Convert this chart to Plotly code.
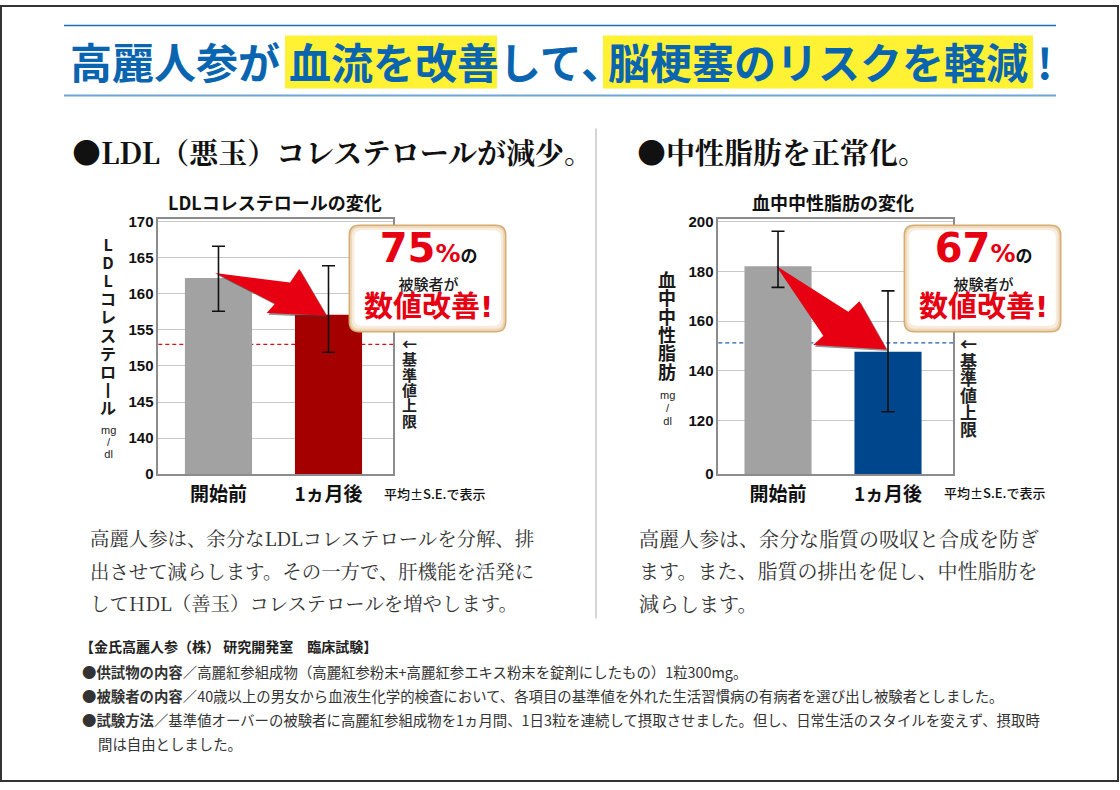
import math
import plotly.graph_objects as go

W, H = 1120, 790

# ---------------- data ----------------
categories = ["開始前", "1ヵ月後"]

ldl_mean = [162.2, 157.1]
ldl_se_plus = [4.4, 6.8]
ldl_se_minus = [4.6, 5.2]
ldl_upper_limit = 153.0
ldl_ticks = [0, 140, 145, 150, 155, 160, 165, 170]
ldl_improved_pct = 75

tg_mean = [182.1, 147.7]
tg_se_plus = [14.1, 24.5]
tg_se_minus = [8.5, 24.1]
tg_upper_limit = 151.3
tg_ticks = [0, 120, 140, 160, 180, 200]
tg_improved_pct = 67

# ---------------- styling / geometry ----------------
SANS = "Noto Sans CJK JP, Noto Sans, sans-serif"
SERIF = "Noto Serif CJK JP, Liberation Serif, Noto Sans CJK JP, serif"
NUM = "Liberation Sans, Arial, sans-serif"
RED = "#e60012"
BLUE_T = "#0a65b0"

LEFT = dict(xd=(158.3, 393.3), xr=(-0.547, 1.589), yd=(220.0, 475.7), yr=(135.0, 170.46),
            xa="x", ya="y")
RIGHT = dict(xd=(718.3, 953.0), xr=(-0.543, 1.591), yd=(220.0, 475.7), yr=(98.5, 201.3),
             xa="x2", ya="y2")

VS = 0.984  # vertical layout factor about the page middle


def Y(py):
    return 400 + (py - 400) / VS


def P(px, py):
    return px / W, 1 - Y(py) / H


def d2p(g, x, y):
    px = g["xd"][0] + (x - g["xr"][0]) / (g["xr"][1] - g["xr"][0]) * (g["xd"][1] - g["xd"][0])
    py = g["yd"][1] - (y - g["yr"][0]) / (g["yr"][1] - g["yr"][0]) * (g["yd"][1] - g["yd"][0])
    return px, py


def p2d(g, px, py):
    x = g["xr"][0] + (px - g["xd"][0]) / (g["xd"][1] - g["xd"][0]) * (g["xr"][1] - g["xr"][0])
    y = g["yr"][0] + (g["yd"][1] - py) / (g["yd"][1] - g["yd"][0]) * (g["yr"][1] - g["yr"][0])
    return x, y


def arrow_xy(g, tail, tip, tail_off, tip_off, pts, shift=(0, 0)):
    tx, ty = d2p(g, *tail)
    hx, hy = d2p(g, *tip)
    tx += tail_off[0]; ty += tail_off[1]
    hx += tip_off[0]; hy += tip_off[1]
    dx, dy = hx - tx, hy - ty
    L = math.hypot(dx, dy)
    ux, uy = dx / L, dy / L
    nx, ny = uy, -ux
    xs, ys = [], []
    for a, p in pts + [pts[0]]:
        px = tx + a * L * ux + p * nx + shift[0]
        py = ty + a * L * uy + p * ny + shift[1]
        x, y = p2d(g, px, py)
        xs.append(x); ys.append(y)
    return xs, ys


fig = go.Figure()
shapes = []
annotations = []


def ann(text, px, py, size, color="#222", family=SANS, weight="normal",
        xanchor="center", yanchor="middle"):
    x, y = P(px, py)
    annotations.append(dict(text=text, x=x, y=y, xref="paper", yref="paper", showarrow=False,
                            xanchor=xanchor, yanchor=yanchor,
                            font=dict(size=size, color=color, family=family, weight=weight)))


def vstack(chars, px, g1, pitch, size, weight="bold", color="#1a1a1a", family=SANS,
           asc=1.16, desc=0.288, vc=0.38):
    """Vertical text as one annotation: lines at 'pitch', glyphs at 'size'."""
    base = pitch / 1.3
    txt = "<br>".join(f"<span style='font-size:{size}px'>{c}</span>" for c in chars)
    gN = g1 + (len(chars) - 1) * pitch
    center = (g1 + gN) / 2 + vc * size - (asc - desc) / 2 * size
    ann(txt, px, center, base, color=color, family=family, weight=weight)


def rrect_path(x0, y0, x1, y1, r):
    def q(px, py):
        a, b = P(px, py)
        return f"{a:.6f},{b:.6f}"
    return (f"M {q(x0 + r, y0)} L {q(x1 - r, y0)} Q {q(x1, y0)} {q(x1, y0 + r)} "
            f"L {q(x1, y1 - r)} Q {q(x1, y1)} {q(x1 - r, y1)} L {q(x0 + r, y1)} "
            f"Q {q(x0, y1)} {q(x0, y1 - r)} L {q(x0, y0 + r)} Q {q(x0, y0)} {q(x0 + r, y0)} Z")


def add_chart(g, means, sp, sm, limit, limit_color, colors, ticks, arrow_pts,
              tail_off, tip_off):
    floor = g["yr"][0]
    fig.add_trace(go.Bar(x=[0, 1], y=means, width=0.61, marker=dict(color=colors, line=dict(width=0)),
                         xaxis=g["xa"], yaxis=g["ya"], hoverinfo="skip"))
    for shift, col in (((1.6, 1.6), "rgba(60,60,60,0.55)"), ((0, 0), RED)):
        xs, ys = arrow_xy(g, (0, means[0]), (1, means[1]), tail_off, tip_off, arrow_pts, shift)
        fig.add_trace(go.Scatter(x=xs, y=ys, mode="lines", fill="toself", fillcolor=col,
                                 line=dict(width=0), xaxis=g["xa"], yaxis=g["ya"], hoverinfo="skip"))
    fig.add_trace(go.Scatter(x=[0, 1], y=means, mode="markers", marker=dict(size=1, opacity=0),
                             error_y=dict(type="data", symmetric=False, array=sp, arrayminus=sm,
                                          color="#111111", thickness=1.6, width=6.5),
                             xaxis=g["xa"], yaxis=g["ya"], hoverinfo="skip"))
    shapes.append(dict(type="line", xref=f"{g['xa']} domain", x0=0, x1=1, yref=g["ya"],
                       y0=limit, y1=limit, layer="below",
                       line=dict(color=limit_color, width=1.2, dash="4px,3px")))
    tickvals = [floor if t == 0 else t for t in ticks]
    ticktext = [str(t) for t in ticks]
    return tickvals, ticktext


ltv, ltt = add_chart(LEFT, ldl_mean, ldl_se_plus, ldl_se_minus, ldl_upper_limit, "#d8101c",
                     ["#a2a2a2", "#a50000"], ldl_ticks,
                     [(0, 0), (0.614, 18.0), (0.646, 33.8), (1, 0), (0.523, -18.9), (0.560, -7.3)],
                     (-3.5, -5.0), (-1.8, 1.0))
rtv, rtt = add_chart(RIGHT, tg_mean, tg_se_plus, tg_se_minus, tg_upper_limit, "#1f5fae",
                     ["#a2a2a2", "#00468c"], tg_ticks,
                     [(0, 0), (0.615, 6.9), (0.633, 22.0), (1, 0), (0.559, -40.8), (0.576, -27.3)],
                     (-2.0, -0.5), (-1.3, -2.3))


def xaxis_cfg(g):
    return dict(domain=[g["xd"][0] / W, g["xd"][1] / W], range=list(g["xr"]), tickvals=[0, 1],
                ticktext=categories, tickfont=dict(family=SANS, size=19, color="#111", weight="bold"),
                showline=True, mirror=True, linecolor="#8c8c8c", linewidth=1.5, showgrid=False,
                zeroline=False, ticks="", fixedrange=True, anchor=g["ya"], ticklabelstandoff=2)


def yaxis_cfg(g, tv, tt):
    return dict(domain=[1 - Y(g["yd"][1]) / H, 1 - Y(g["yd"][0]) / H], range=list(g["yr"]),
                tickvals=tv, ticktext=tt, tickfont=dict(family=NUM, size=15, color="#111", weight="bold"),
                showline=True, mirror=True, linecolor="#8c8c8c", linewidth=1.5, showgrid=True,
                gridcolor="#c8c8c8", gridwidth=1, zeroline=False, ticks="", fixedrange=True,
                anchor=g["xa"])


# ---------------- frame / header ----------------
shapes.append(dict(type="rect", xref="paper", yref="paper", x0=1 / W, x1=1118 / W,
                   y0=1 / H, y1=1 - 1 / H, line=dict(color="#333", width=2), layer="above"))
for py, col, wd in ((27, "#1f6db5", 1.5), (97, "#6ea6d8", 2)):
    shapes.append(dict(type="line", xref="paper", yref="paper", x0=P(64, 0)[0], x1=P(1056, 0)[0],
                       y0=P(0, py)[1], y1=P(0, py)[1], line=dict(color=col, width=wd)))
for x0, x1 in ((285, 497), (603, 1033)):
    shapes.append(dict(type="rect", xref="paper", yref="paper", x0=P(x0, 0)[0], x1=P(x1, 0)[0],
                       y0=P(0, 90)[1], y1=P(0, 37)[1], fillcolor="#fff235", line=dict(width=0),
                       layer="below"))
for txt, px in (("高麗人参が", 68), ("血流を改善", 287), ("して", 497), ("､", 580),
                ("脳梗塞のリスクを軽減", 606), ("!", 1035)):
    ann(txt, px, 62, 42, color=BLUE_T, weight="bold", xanchor="left")

shapes.append(dict(type="line", xref="paper", yref="paper", x0=P(596, 0)[0], x1=P(596, 0)[0],
                   y0=P(0, 130)[1], y1=P(0, 620)[1], line=dict(color="#aaaaaa", width=1)))

# section headings
ann("●LDL（悪玉）コレステロールが減少。", 70, 153, 29, color="#111", family=SERIF,
    weight="bold", xanchor="left")
ann("●中性脂肪を正常化。", 635, 153, 29, color="#111", family=SERIF, weight="bold", xanchor="left")

# chart titles
ann("LDLコレステロールの変化", 275, 203, 18, color="#111", weight="bold")
ann("血中中性脂肪の変化", 833, 203, 18, color="#111", weight="bold")

# y-axis titles (vertical)
vstack(["L", "D", "L", "コ", "レ", "ス", "テ", "ロ", "丨", "ル"], 108.3, 246.7, 18.1, 16)
vstack(["mg", "/", "dl"], 108, 432.5, 12, 11, weight="normal", color="#222", family=NUM,
       asc=0.905, desc=0.212, vc=0.3)
vstack(["血", "中", "中", "性", "脂", "肪"], 666.7, 282, 18.3, 18)
vstack(["mg", "/", "dl"], 667, 397, 13, 11, weight="normal", color="#222", family=NUM,
       asc=0.905, desc=0.212, vc=0.3)

# upper-limit labels (vertical)
vstack(["←", "基", "準", "値", "上", "限"], 409, 346, 15.3, 15, weight="bold", color="#222")
vstack(["←", "基", "準", "値", "上", "限"], 968, 346, 17.0, 17, weight="bold", color="#222")

ann("平均±S.E.で表示", 381.7, 495, 13, color="#111", weight=500, xanchor="left")
ann("平均±S.E.で表示", 941.7, 494, 13, color="#111", weight=500, xanchor="left")

# call-out boxes
for dx, pct in ((0, ldl_improved_pct), (555, tg_improved_pct)):
    x0, x1, y0, y1 = 349.3 + dx, 505.7 + dx, 226.7, 333.3
    shapes.append(dict(type="path", xref="paper", yref="paper", path=rrect_path(x0, y0, x1, y1, 10),
                       fillcolor="#ecd6b6", line=dict(color="#d6ac70", width=1.5), layer="above"))
    shapes.append(dict(type="path", xref="paper", yref="paper",
                       path=rrect_path(x0 + 2.5, y0 + 2.5, x1 - 2.5, y1 - 3, 8),
                       fillcolor="#f7ecdc", line=dict(width=0), layer="above"))
    shapes.append(dict(type="path", xref="paper", yref="paper",
                       path=rrect_path(x0 + 5, y0 + 5, x1 - 5, y1 - 6, 7),
                       fillcolor="#ffffff", line=dict(width=0), layer="above"))
    cx = (x0 + x1) / 2
    txt = (f"<span style='font-size:40px'>{pct}</span><span style='font-size:25px'>%</span>"
           f"<span style='font-size:17px;color:#111'>の</span>"
           f"<br><span style='font-size:15px;color:#1a1a1a;font-weight:500'>被験者が</span>"
           f"<br><span style='font-size:29px'>数値改善!</span>")
    ann(txt, cx + 1, 276.5, 21.3, color=RED, family="DejaVu Sans, Noto Sans CJK JP", weight="bold")

# body texts
for i, line in enumerate(["高麗人参は、余分なLDLコレステロールを分解、排",
                          "出させて減らします。その一方で、肝機能を活発に",
                          "してHDL（善玉）コレステロールを増やします。"]):
    ann(line, 88, 540 + i * 32.5, 19.4, color="#333", family=SERIF, xanchor="left")
for i, line in enumerate(["高麗人参は、余分な脂質の吸収と合成を防ぎ",
                          "ます。また、脂質の排出を促し、中性脂肪を",
                          "減らします。"]):
    ann(line, 637, 540 + i * 32.5, 20, color="#333", family=SERIF, xanchor="left")

# footnotes
ann("<b>【金氏高麗人参（株） 研究開発室　臨床試験】</b>", 78, 648, 14, color="#222", xanchor="left")
foot = [
    ("<b>●供試物の内容</b>／高麗紅参組成物（高麗紅参粉末+高麗紅参エキス粉末を錠剤にしたもの）1粒300mg。", 80, 673),
    ("<b>●被験者の内容</b>／40歳以上の男女から血液生化学的検査において、各項目の基準値を外れた生活習慣病の有病者を選び出し被験者としました。", 80, 697),
    ("<b>●試験方法</b>／基準値オーバーの被験者に高麗紅参組成物を1ヵ月間、1日3粒を連続して摂取させました。但し、日常生活のスタイルを変えず、摂取時", 80, 721),
    ("間は自由としました。", 96, 745),
]
for t, px, py in foot:
    ann(t, px, py, 14.4, color="#333", xanchor="left")

fig.update_layout(
    width=W, height=H, margin=dict(l=0, r=0, t=0, b=0),
    paper_bgcolor="white", plot_bgcolor="white", showlegend=False,
    xaxis=xaxis_cfg(LEFT), yaxis=yaxis_cfg(LEFT, ltv, ltt),
    xaxis2=xaxis_cfg(RIGHT), yaxis2=yaxis_cfg(RIGHT, rtv, rtt),
    shapes=shapes, annotations=annotations,
)

fig.write_html("out.html", config={"displayModeBar": False},
               post_script="document.body.style.margin='0';document.body.style.overflow='hidden';")
